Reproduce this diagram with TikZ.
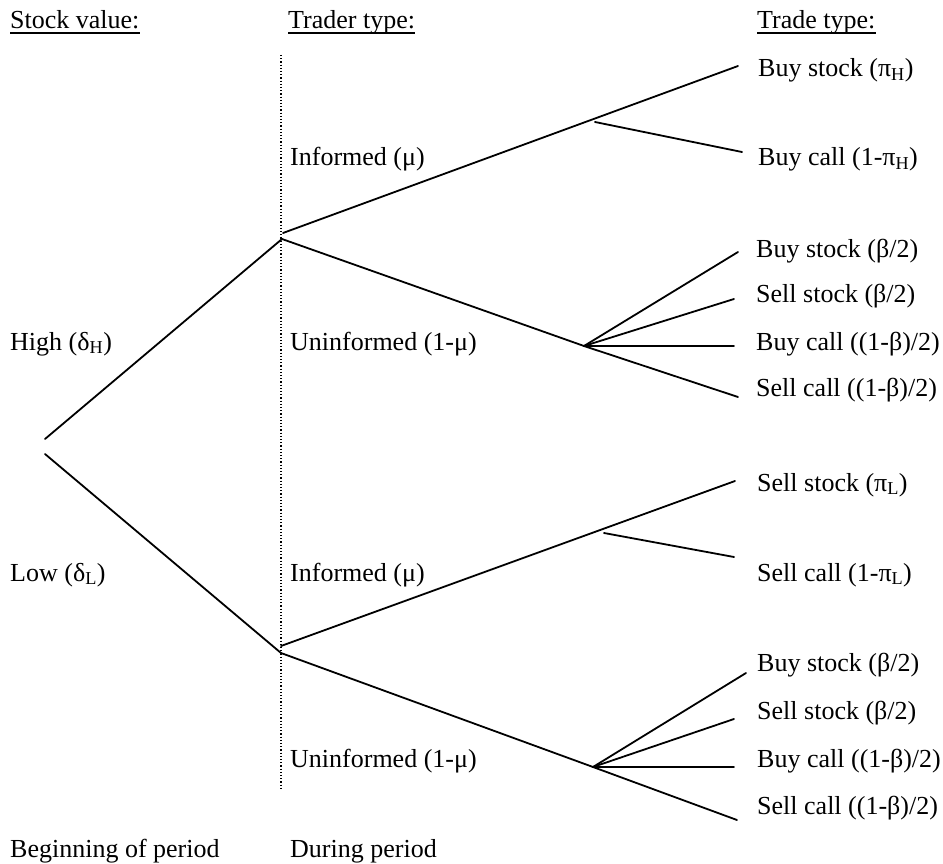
\documentclass[tikz,border=0pt]{standalone}
\usepackage{fontspec}
\setmainfont{Liberation Serif}
\begin{document}
\begin{tikzpicture}[x=1pt,y=-1pt,
  lbl/.style={anchor=base west, inner sep=0pt, font=\fontsize{26}{30}\selectfont},
  edge/.style={line width=1.8pt, line cap=round},
  uline/.style={line width=1.4pt},
  period/.style={dotted, line width=1.2pt}]
\useasboundingbox (0,0) rectangle (943,864);
% headers
\node[lbl] (hsv) at (10,29) {Stock value:};
\node[lbl] (htr) at (288,29) {Trader type:};
\node[lbl] (htd) at (757,29) {Trade type:};
\foreach \h in {hsv,htr,htd}
  \draw[uline] ([yshift=-4pt]\h.base west) -- ([yshift=-4pt]\h.base east);
% period divider
\coordinate (dtop) at (281,55);
\coordinate (dbot) at (281,790);
\draw[period] (dtop) -- (dbot);
% tree points
\coordinate (rootU) at (45,439);
\coordinate (rootL) at (45,454);
\coordinate (nU) at (282,239);
\coordinate (nUi) at (283,233);
\coordinate (nL) at (281,653);
\coordinate (nLi) at (281,646);
\coordinate (iUend) at (738,66);
\coordinate (iUb) at (595,122);
\coordinate (iUbend) at (742,152);
\coordinate (fU) at (584,346);
\coordinate (fU1) at (738,252);
\coordinate (fU2) at (734,299);
\coordinate (fU3) at (734,346);
\coordinate (fU4) at (738,397);
\coordinate (iLend) at (735,481);
\coordinate (iLb) at (604,533);
\coordinate (iLbend) at (734,557);
\coordinate (fL) at (593,767);
\coordinate (fL1) at (746,673);
\coordinate (fL2) at (734,719);
\coordinate (fL3) at (734,767);
\coordinate (fL4) at (737,820);
% edges
\draw[edge] (rootU) -- (nU);
\draw[edge] (rootL) -- (nL);
\draw[edge] (nUi) -- (iUend);
\draw[edge] (iUb) -- (iUbend);
\draw[edge] (nU) -- (fU);
\foreach \e in {fU1,fU2,fU3,fU4} \draw[edge] (fU) -- (\e);
\draw[edge] (nLi) -- (iLend);
\draw[edge] (iLb) -- (iLbend);
\draw[edge] (nL) -- (fL);
\foreach \e in {fL1,fL2,fL3,fL4} \draw[edge] (fL) -- (\e);
% stock value labels
\node[lbl] (high) at (10,350) {High (δ\textsubscript{H})};
\node[lbl] (low) at (10,581) {Low (δ\textsubscript{L})};
% trader type labels
\node[lbl] (infU) at (290,166) {Informed (μ)};
\node[lbl] (uninfU) at (290,350) {Uninformed (1-μ)};
\node[lbl] (infL) at (290,581) {Informed (μ)};
\node[lbl] (uninfL) at (290,767) {Uninformed (1-μ)};
% trade type labels
\node[lbl] (t1) at (758,77) {Buy stock (π\textsubscript{H})};
\node[lbl] (t2) at (758,166) {Buy call (1-π\textsubscript{H})};
\node[lbl] (t3) at (756,257) {Buy stock (β/2)};
\node[lbl] (t4) at (756,302) {Sell stock (β/2)};
\node[lbl] (t5) at (756,350) {Buy call ((1-β)/2)};
\node[lbl] (t6) at (756,396) {Sell call ((1-β)/2)};
\node[lbl] (t7) at (757,491) {Sell stock (π\textsubscript{L})};
\node[lbl] (t8) at (757,581) {Sell call (1-π\textsubscript{L})};
\node[lbl] (t9) at (757,671) {Buy stock (β/2)};
\node[lbl] (t10) at (757,719) {Sell stock (β/2)};
\node[lbl] (t11) at (757,767) {Buy call ((1-β)/2)};
\node[lbl] (t12) at (757,814) {Sell call ((1-β)/2)};
% bottom
\node[lbl] (bop) at (10,857) {Beginning of period};
\node[lbl] (dp) at (290,857) {During period};
\end{tikzpicture}
\end{document}
